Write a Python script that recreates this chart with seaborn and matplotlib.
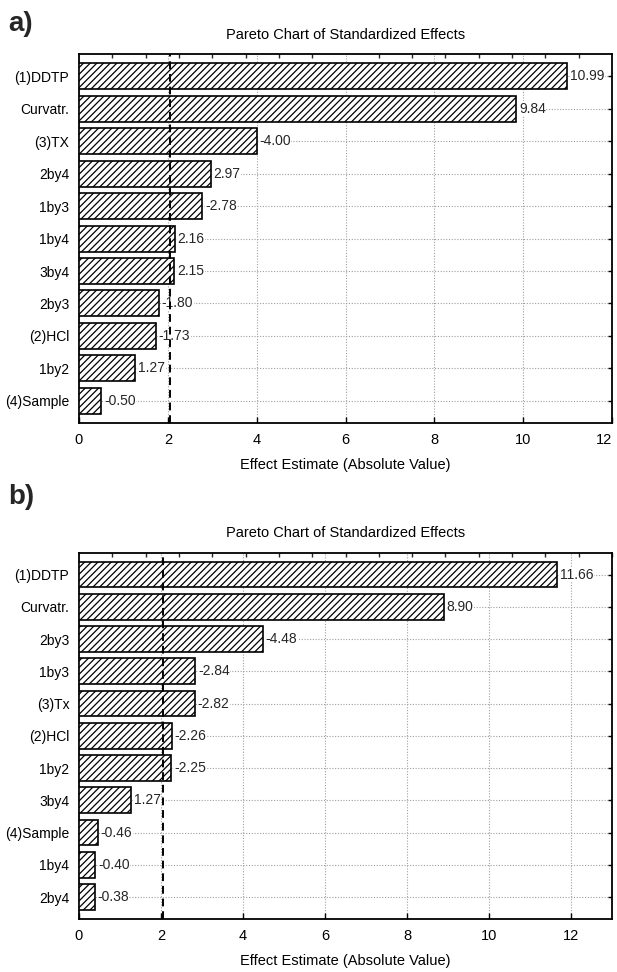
import numpy as np
import pandas as pd
import matplotlib
matplotlib.use("Agg")
import matplotlib.pyplot as plt
from matplotlib.ticker import MultipleLocator
import seaborn as sns

# ---- data ----
labels_a = ["(1)DDTP", "Curvatr.", "(3)TX", "2by4", "1by3", "1by4", "3by4",
            "2by3", "(2)HCl", "1by2", "(4)Sample"]
values_a = [10.99, 9.84, -4.00, 2.97, -2.78, 2.16, 2.15, -1.80, -1.73, 1.27, -0.50]
crit_a = 2.04
xmax_a = 12

labels_b = ["(1)DDTP", "Curvatr.", "2by3", "1by3", "(3)Tx", "(2)HCl", "1by2",
            "3by4", "(4)Sample", "1by4", "2by4"]
values_b = [11.66, 8.90, -4.48, -2.84, -2.82, -2.26, -2.25, 1.27, -0.46, -0.40, -0.38]
crit_b = 2.06
xmax_b = 13

title = "Pareto Chart of Standardized Effects"
xlabel = "Effect Estimate (Absolute Value)"
panel_tags = ["a)", "b)"]

# ---- style ----
sns.set_style("white")
plt.rcParams["font.family"] = ["Liberation Sans", "DejaVu Sans"]
plt.rcParams["hatch.linewidth"] = 0.9
plt.rcParams["hatch.color"] = "black"

fig = plt.figure(figsize=(6.17, 9.72), dpi=100)

fs = 10.5
fs_y = 10
fs_val = 10


def panel(ax, labels, values, crit, xmax):
    df = pd.DataFrame({"effect": labels, "absval": np.abs(values)})
    sns.barplot(data=df, x="absval", y="effect", orient="h", color="white",
                saturation=1, edgecolor="black", linewidth=1.2, width=0.8,
                ax=ax, zorder=3)
    for p in ax.patches:
        p.set_facecolor("white")
        p.set_hatch("/////")
    n = len(labels)
    ax.set_ylim(n - 1 + 0.68, -0.68)
    ax.set_xlim(0, xmax)
    ax.grid(True, linestyle=(0, (1, 1.5)), color="#a0a0a0", linewidth=0.8)
    ax.set_axisbelow(True)
    ax.bar_label(ax.containers[0], labels=[f"{v:.2f}" for v in values],
                 padding=2, fontsize=fs_val, zorder=4,
                 bbox=dict(facecolor="white", edgecolor="none", pad=0.3))
    ax.axvline(crit, color="black", linestyle=(0, (4, 2.5)), linewidth=1.4, zorder=6)
    ax.xaxis.set_major_locator(MultipleLocator(2))
    ax.xaxis.set_minor_locator(MultipleLocator(xmax / 16))
    ax.tick_params(axis="x", which="major", direction="in", length=4, width=1,
                   top=False, bottom=True, labelsize=fs, pad=7, colors="black")
    ax.tick_params(axis="x", which="minor", direction="in", length=3, width=1,
                   top=True, bottom=False)
    ax.tick_params(axis="y", which="major", direction="in", length=3, width=1,
                   left=True, right=True, labelsize=fs_y, pad=7, colors="black")
    for s in ax.spines.values():
        s.set_color("black")
        s.set_linewidth(1.3)
    ax.set_ylabel("")
    ax.set_xlabel(xlabel, fontsize=fs, labelpad=8, color="black")
    ax.set_title(title, fontsize=fs, pad=11, color="black")


ax_a = fig.add_axes([0.128, 0.5648, 0.864, 0.3796])
panel(ax_a, labels_a, values_a, crit_a, xmax_a)
ax_b = fig.add_axes([0.128, 0.0545, 0.864, 0.3770])
panel(ax_b, labels_b, values_b, crit_b, xmax_b)

# keep the last tick label of panel a inside the figure
fig.canvas.draw()
for t in ax_a.get_xticklabels():
    if t.get_text() == "12":
        t.set_horizontalalignment("right")

fig.text(0.014, 0.975, panel_tags[0], fontsize=20, fontweight="bold", va="center", ha="left")
fig.text(0.014, 0.489, panel_tags[1], fontsize=20, fontweight="bold", va="center", ha="left")

fig.savefig("out.png", dpi=100)
